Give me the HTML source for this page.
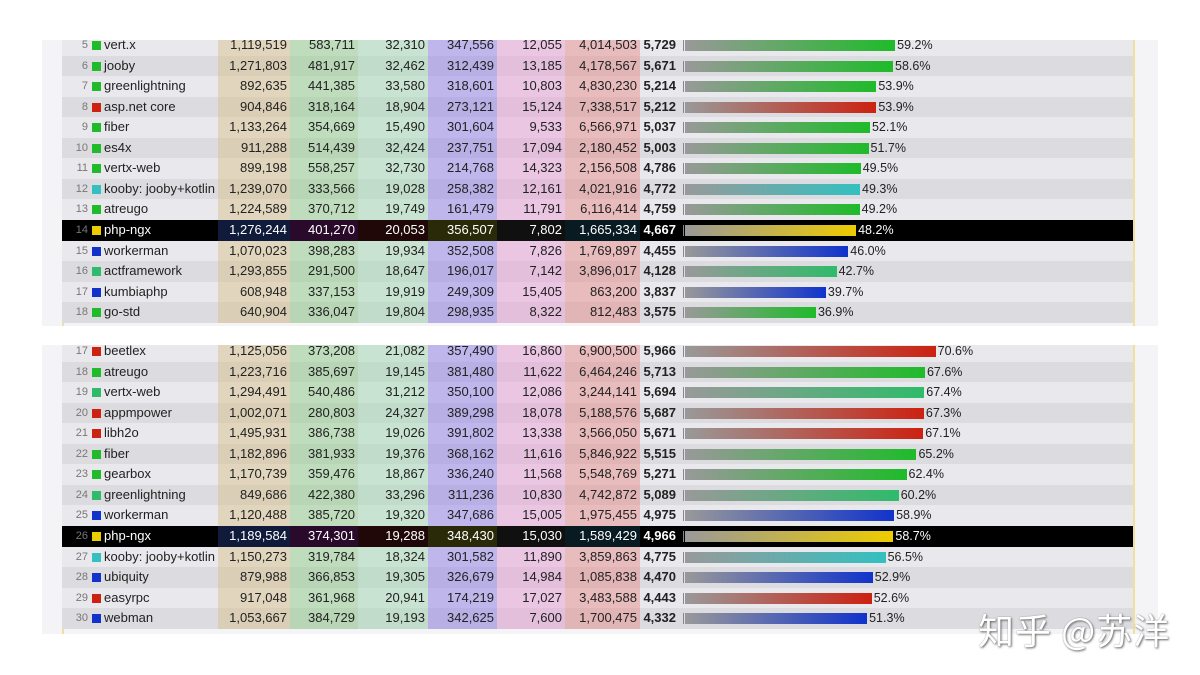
<!DOCTYPE html>
<html><head><meta charset="utf-8">
<style>
body{margin:0;width:1200px;height:675px;background:#fff;position:relative;overflow:hidden;font-family:"Liberation Sans Narrow","Liberation Sans",sans-serif;}
.panel{position:absolute;left:42px;width:1116px;background:#f4f4f6;overflow:hidden;}
.row{position:absolute;left:20px;width:1071px;height:20.6px;font-size:13px;line-height:20.6px;color:#222;}
.row.a{background:#e9e9ed}.row.b{background:#dcdce0}
.row.hl{background:#000;color:#fff}
.c{position:absolute;top:0;height:100%;text-align:right;box-sizing:border-box;padding-right:3px}
.rk{position:absolute;left:0;width:26px;text-align:right;color:#777;font-size:11px}
.sq{position:absolute;left:30px;top:6px;width:9px;height:9px}
.nm{position:absolute;left:42px}
.sc{position:absolute;left:578px;width:36px;text-align:right;font-weight:bold}
.tick{position:absolute;left:621px;top:5px;width:1px;height:11px;background:#888}
.bar{position:absolute;left:623px;top:5px;height:11px}
.pct{position:absolute;font-size:12.5px}
.vl{position:absolute;top:0;bottom:0;width:2px;background:#f0e0a0}
.wm{position:absolute;left:978px;top:603px;font-family:"Noto Sans CJK SC",sans-serif;font-size:36px;color:#fff;text-shadow:1px 1px 2px #666,0 0 1px #888;letter-spacing:1px}
</style></head><body>
<div class="panel" id="t1" style="top:40px;height:286px"><div class="vl" style="left:20px"></div><div class="vl" style="left:1091px"></div></div>
<div class="panel" id="t2" style="top:345px;height:289px"><div class="vl" style="left:20px"></div><div class="vl" style="left:1091px"></div></div>
<div class="wm">知乎 @苏洋</div>
<script>
const ranks1=[5,6,7,8,9,10,11,12,13,14,15,16,17,18];
const names1=["vert.x","jooby","greenlightning","asp.net core","fiber","es4x","vertx-web","kooby: jooby+kotlin","atreugo","php-ngx","workerman","actframework","kumbiaphp","go-std"];
const colors1=["g","g","g","r","g","g","g","t","g","y","b","m","b","g"];
const vals1=[
["1,119,519","583,711","32,310","347,556","12,055","4,014,503"],
["1,271,803","481,917","32,462","312,439","13,185","4,178,567"],
["892,635","441,385","33,580","318,601","10,803","4,830,230"],
["904,846","318,164","18,904","273,121","15,124","7,338,517"],
["1,133,264","354,669","15,490","301,604","9,533","6,566,971"],
["911,288","514,439","32,424","237,751","17,094","2,180,452"],
["899,198","558,257","32,730","214,768","14,323","2,156,508"],
["1,239,070","333,566","19,028","258,382","12,161","4,021,916"],
["1,224,589","370,712","19,749","161,479","11,791","6,116,414"],
["1,276,244","401,270","20,053","356,507","7,802","1,665,334"],
["1,070,023","398,283","19,934","352,508","7,826","1,769,897"],
["1,293,855","291,500","18,647","196,017","7,142","3,896,017"],
["608,948","337,153","19,919","249,309","15,405","863,200"],
["640,904","336,047","19,804","298,935","8,322","812,483"]];
const scores1=["5,729","5,671","5,214","5,212","5,037","5,003","4,786","4,772","4,759","4,667","4,455","4,128","3,837","3,575"];
const pcts1=[59.2,58.6,53.9,53.9,52.1,51.7,49.5,49.3,49.2,48.2,46.0,42.7,39.7,36.9];

const ranks2=[17,18,19,20,21,22,23,24,25,26,27,28,29,30];
const names2=["beetlex","atreugo","vertx-web","appmpower","libh2o","fiber","gearbox","greenlightning","workerman","php-ngx","kooby: jooby+kotlin","ubiquity","easyrpc","webman"];
const colors2=["r","g","m","r","r","g","g","m","b","y","t","b","r","b"];
const vals2=[
["1,125,056","373,208","21,082","357,490","16,860","6,900,500"],
["1,223,716","385,697","19,145","381,480","11,622","6,464,246"],
["1,294,491","540,486","31,212","350,100","12,086","3,244,141"],
["1,002,071","280,803","24,327","389,298","18,078","5,188,576"],
["1,495,931","386,738","19,026","391,802","13,338","3,566,050"],
["1,182,896","381,933","19,376","368,162","11,616","5,846,922"],
["1,170,739","359,476","18,867","336,240","11,568","5,548,769"],
["849,686","422,380","33,296","311,236","10,830","4,742,872"],
["1,120,488","385,720","19,320","347,686","15,005","1,975,455"],
["1,189,584","374,301","19,288","348,430","15,030","1,589,429"],
["1,150,273","319,784","18,324","301,582","11,890","3,859,863"],
["879,988","366,853","19,305","326,679","14,984","1,085,838"],
["917,048","361,968","20,941","174,219","17,027","3,483,588"],
["1,053,667","384,729","19,193","342,625","7,600","1,700,475"]];
const scores2=["5,966","5,713","5,694","5,687","5,671","5,515","5,271","5,089","4,975","4,966","4,775","4,470","4,443","4,332"];
const pcts2=[70.6,67.6,67.4,67.3,67.1,65.2,62.4,60.2,58.9,58.7,56.5,52.9,52.6,51.3];

const COL={g:"#1fbb2a",r:"#cc2211",b:"#1133cc",y:"#eecc00",t:"#33c0c0",m:"#2fbb6a"};
const colX=[156,228,296,366,435,503];
const colW=[72,68,70,69,68,75];
const tint=["rgba(215,190,130,.45)","rgba(140,205,130,.45)","rgba(160,220,175,.45)","rgba(140,120,235,.45)","rgba(235,150,215,.42)","rgba(230,130,130,.45)"];
const dark=["#101a3a","#2a0a2a","#200808","#2a2a08","#101010","#081a22"];
const PX=3.55;
function build(id,top0,ranks,names,colors,vals,scores,pcts){
  const p=document.getElementById(id);
  ranks.forEach((rk,i)=>{
    const r=document.createElement('div');
    
    
    const hl=names[i]==="php-ngx";
    r.className='row '+(hl?'hl':(i%2?'b':'a'));
    r.style.top=(top0+i*20.55)+'px';
    let h='<span class="rk">'+rk+'</span><span class="sq" style="background:'+COL[colors[i]]+'"></span><span class="nm">'+names[i]+'</span>';
    vals[i].forEach((v,j)=>{h+='<span class="c" style="left:'+colX[j]+'px;width:'+colW[j]+'px;background:'+(hl?dark[j]:tint[j])+'">'+v+'</span>';});
    const w=pcts[i]*PX, c=COL[colors[i]];
    h+='<span class="sc">'+scores[i]+'</span><span class="tick"></span><span class="bar" style="width:'+w+'px;background:linear-gradient(90deg,#999,'+c+')"></span><span class="pct" style="left:'+(625+w)+'px">'+pcts[i].toFixed(1)+'%</span>';
    r.innerHTML=h;
    p.appendChild(r);
  });
}
build('t1',-5,ranks1,names1,colors1,vals1,scores1,pcts1);
build('t2',-4,ranks2,names2,colors2,vals2,scores2,pcts2);
</script>
</body></html>
